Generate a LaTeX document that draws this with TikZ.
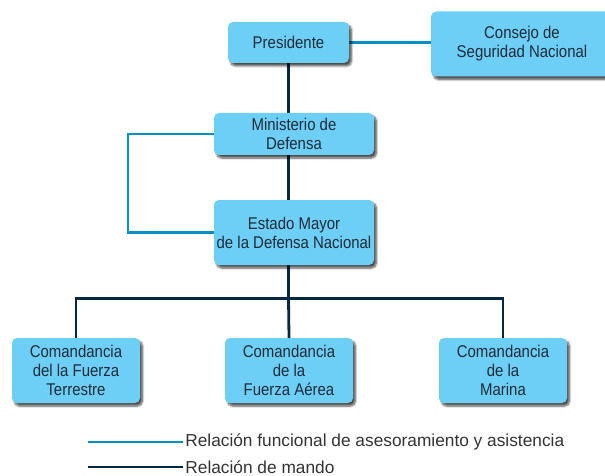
\documentclass[tikz,border=0pt]{standalone}
\usepackage{fontspec}
\setmainfont{Liberation Sans}
\newfontfamily\cajafont[FakeStretch=0.88]{Liberation Sans}
\usetikzlibrary{shadows.blur,backgrounds}
\definecolor{cajaazul}{HTML}{6DCFF6}
\definecolor{lineaazul}{HTML}{0A8FC4}
\definecolor{lineaosc}{HTML}{03283F}
\definecolor{textoosc}{HTML}{1E2B38}
\tikzset{
  caja/.style={rounded corners=5pt, fill=cajaazul, draw=none, text=textoosc,
    align=center, inner sep=0pt, minimum height=65pt, minimum width=128pt,
    font=\cajafont\fontsize{17}{19}\selectfont,
    blur shadow={shadow xshift=2.5pt, shadow yshift=-3pt, shadow blur steps=6, shadow opacity=70}},
  asesoria/.style={draw=lineaazul, line width=2.6pt},
  mando/.style={draw=lineaosc, line width=2.8pt},
  leyenda/.style={text=black!80, font=\fontsize{17.3}{19}\selectfont, inner sep=1pt}
}
\begin{document}
\begin{tikzpicture}[x=1pt, y=-1pt]
\useasboundingbox (0,0) rectangle (605,476); % margenes
% cajas
\node[caja, minimum width=121pt, minimum height=41pt] (pres) at (288.5,42.5) {Presidente};
\node[caja, minimum width=182pt] (consejo) at (522,44) {Consejo de\\Seguridad Nacional};
\node[caja, minimum width=160pt, minimum height=42pt] (min) at (294,134) {Ministerio de\\Defensa};
\node[caja, minimum width=160pt] (estado) at (294,232.5) {Estado Mayor\\de la Defensa Nacional};
\node[caja] (terr) at (76,370.5) {Comandancia\\del la Fuerza\\Terrestre};
\node[caja] (aerea) at (289,370.5) {Comandancia\\de la\\Fuerza A\'erea};
\node[caja] (marina) at (503,370.5) {Comandancia\\de la\\Marina};
% lineas
\begin{scope}[on background layer]
\draw[asesoria] (pres.east) -- (consejo.west |- pres.east); % consejo
\draw[asesoria] (min.west) -- ++(-86,0) |- (estado.west); % ministerio - estado mayor
\draw[mando] (pres.south) -- (pres.south |- estado.north);
\draw[mando] (pres.south |- estado.south) -- ++(0,33) coordinate (barra);
\draw[mando] (terr.north) |- (barra) -| (marina.north);
\draw[mando] (barra) -- (aerea.north);
\end{scope}
% leyenda
\coordinate (ley1) at (88,442);
\coordinate (ley2) at (88,467);
\draw[asesoria] (ley1) -- ++(95,0) node[right, leyenda] {Relaci\'on funcional de asesoramiento y asistencia};
\draw[mando] (ley2) -- ++(95,0) node[right, leyenda] {Relaci\'on de mando};
\end{tikzpicture}
\end{document}
